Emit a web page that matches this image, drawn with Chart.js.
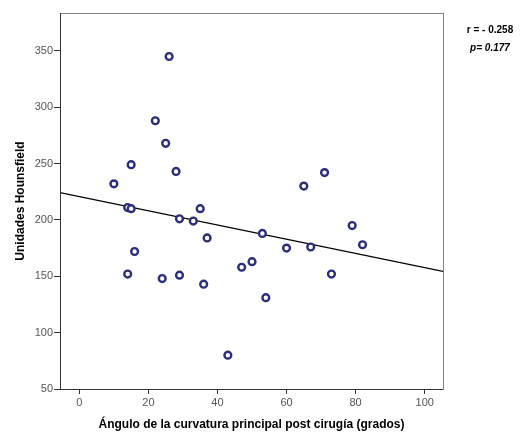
<!DOCTYPE html>
<html>
<head>
<meta charset="utf-8">
<script src="https://cdn.jsdelivr.net/npm/chart.js@4"></script>
<style>
    html, body { margin: 0; padding: 0; background: #fff; }
    #wrap { width: 523px; height: 432px; }
</style>
</head>
<body>
<div id="wrap"><canvas id="scatterChart" width="523" height="432"></canvas></div>
<script>
// Angulo de la curvatura vs Unidades Hounsfield

const angulo = [26, 22, 25, 15, 28, 10, 65, 71, 14, 15, 35, 29, 33, 37, 53, 79, 82, 16, 60, 67, 50, 47, 14, 29, 24, 73, 36, 54, 43];
const hounsfield = [345, 288, 268, 249, 243, 232, 230, 242, 211, 210, 210, 201, 199, 184, 188, 195, 178, 172, 175, 176, 163, 158, 152, 151, 148, 152, 143, 131, 80];

// fit line (ends at the plot edges)
const fitX = [-5.6, 105.3];
const fitY = [224.3, 154.3];

const xTicks = [0, 20, 40, 60, 80, 100];
const yTicks = [50, 100, 150, 200, 250, 300, 350];

const statLines = ['r = - 0.258', 'p= 0.177'];

const points = angulo.map((x, i) => ({ x: x, y: hounsfield[i] }));
const fitPoints = fitX.map((x, i) => ({ x: x, y: fitY[i] }));

const boxAndText = {
    id: 'boxAndText',
    afterDraw(chart) {
        const { ctx, chartArea } = chart;
        ctx.save();
        // frame round the plot
        ctx.strokeStyle = '#808080';
        ctx.lineWidth = 1;
        ctx.strokeRect(chartArea.left + 0.5, chartArea.top + 0.5, chartArea.right - chartArea.left, chartArea.bottom - chartArea.top);
        ctx.strokeStyle = '#333';
        ctx.beginPath();
        ctx.moveTo(chartArea.left + 0.5, chartArea.top);
        ctx.lineTo(chartArea.left + 0.5, chartArea.bottom + 0.5);
        ctx.lineTo(chartArea.right, chartArea.bottom + 0.5);
        ctx.stroke();
        // r and p
        ctx.fillStyle = '#000';
        ctx.textAlign = 'center';
        ctx.textBaseline = 'middle';
        ctx.font = 'bold 10px "Liberation Sans", Arial, sans-serif';
        ctx.fillText(statLines[0], 490, 30);
        ctx.font = 'italic bold 10px "Liberation Sans", Arial, sans-serif';
        ctx.fillText(statLines[1], 490, 48);
        ctx.restore();
    }
};

const tickFont = { family: '"Liberation Sans", Arial, sans-serif', size: 11 };
const titleFont = { family: '"Liberation Sans", Arial, sans-serif', size: 12, weight: 'bold' };

new Chart(document.getElementById('scatterChart'), {
    type: 'scatter',
    data: {
        datasets: [{
            label: 'Unidades Hounsfield',
            data: points,
            pointRadius: 3.4,
            pointBorderWidth: 2.4,
            pointBorderColor: '#2b2d7d',
            pointBackgroundColor: '#ffffff',
            pointHoverRadius: 3.4,
        }, {
            label: 'Ajuste',
            type: 'line',
            data: fitPoints,
            borderColor: '#000000',
            borderWidth: 1.3,
            pointRadius: 0,
            fill: false,
        }]
    },
    options: {
        responsive: false,
        animation: false,
        plugins: {
            legend: { display: false },
            tooltip: { enabled: false },
        },
        layout: {
            padding: { left: 13, right: 80, top: 13, bottom: 0 },
        },
        scales: {
            x: {
                type: 'linear',
                min: -5.6,
                max: 105.3,
                afterBuildTicks: (scale) => { scale.ticks = xTicks.map(v => ({ value: v })); },
                afterFit: (scale) => { scale.height = 43; },
                grid: { display: true, drawOnChartArea: false, drawTicks: true, tickLength: 5, color: '#333' },
                border: { display: false },
                ticks: { color: '#555', font: tickFont, padding: 2, maxRotation: 0 },
                title: { display: true, text: 'Ángulo de la curvatura principal post cirugía (grados)', color: '#000', font: titleFont, padding: { top: 2, bottom: 0 } },
            },
            y: {
                type: 'linear',
                min: 50,
                max: 383.6,
                afterBuildTicks: (scale) => { scale.ticks = yTicks.map(v => ({ value: v })); },
                afterFit: (scale) => { scale.width = 47; },
                grid: { display: true, drawOnChartArea: false, drawTicks: true, tickLength: 6, color: '#333' },
                border: { display: false },
                ticks: { color: '#555', font: tickFont, padding: 1 },
                title: { display: true, text: 'Unidades Hounsfield', color: '#000', font: titleFont, padding: { top: 0, bottom: 4 } },
            },
        },
    },
    plugins: [boxAndText],
});
</script>
</body>
</html>
